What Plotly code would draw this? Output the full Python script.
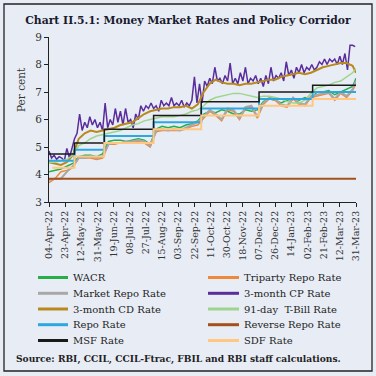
import pandas as pd
import plotly.graph_objects as go

# ---------------- data ----------------
week_dates = list(pd.date_range("2022-04-04", "2023-03-27", freq="7D")) + [pd.Timestamp("2023-03-31")]
cp_dates = list(pd.date_range("2022-04-04", periods=121, freq="3D"))

wacr = [4.10, 4.15, 4.20, 4.30, 4.40, 4.65, 4.70, 4.70, 4.65, 4.75, 5.20, 5.25, 5.25, 5.20, 5.25,
        5.30, 5.25, 5.10, 5.65, 5.75, 5.70, 5.75, 5.70, 5.80, 5.85, 5.95, 6.20, 6.30, 6.25, 6.35,
        6.30, 6.20, 6.20, 6.35, 6.30, 6.35, 6.65, 6.75, 6.70, 6.60, 6.70, 6.75, 6.70, 6.80, 6.75,
        7.00, 7.00, 7.05, 6.90, 7.00, 7.10, 7.20, 7.50]
triparty = [3.70, 3.85, 4.10, 4.15, 4.25, 4.60, 4.60, 4.60, 4.55, 4.60, 5.10, 5.10, 5.15, 5.15, 5.20,
            5.20, 5.15, 5.00, 5.55, 5.60, 5.60, 5.60, 5.60, 5.65, 5.75, 5.80, 6.05, 6.30, 6.15, 5.95,
            6.35, 6.30, 6.00, 6.40, 6.45, 6.05, 6.55, 6.75, 6.70, 6.50, 6.45, 6.75, 6.55, 6.50, 6.80,
            6.85, 6.90, 6.95, 6.70, 6.95, 6.80, 7.05, 7.30]
market_repo = [3.80, 3.85, 3.85, 4.10, 4.30, 4.60, 4.60, 4.65, 4.60, 4.65, 5.10, 5.15, 5.15, 5.20, 5.20,
               5.25, 5.20, 5.05, 5.60, 5.65, 5.60, 5.65, 5.60, 5.70, 5.80, 5.90, 6.10, 6.35, 6.20, 6.00,
               6.40, 6.35, 6.05, 6.45, 6.50, 6.10, 6.60, 6.80, 6.75, 6.55, 6.50, 6.80, 6.60, 6.55, 6.85,
               6.90, 6.95, 7.00, 6.75, 7.00, 6.85, 7.10, 7.40]
cd_rate = [4.45, 4.40, 4.35, 4.45, 4.70, 5.30, 5.50, 5.60, 5.55, 5.60, 5.65, 5.70, 5.80, 5.85, 5.90,
           6.05, 6.20, 6.30, 6.35, 6.40, 6.40, 6.45, 6.45, 6.50, 6.40, 6.55, 7.00, 7.30, 7.45, 7.35,
           7.30, 7.30, 7.25, 7.30, 7.30, 7.35, 7.40, 7.45, 7.45, 7.55, 7.60, 7.65, 7.70, 7.65, 7.70,
           7.80, 7.90, 7.95, 8.00, 8.05, 8.05, 7.95, 7.70]
tbill = [4.45, 4.45, 4.50, 4.55, 4.70, 5.05, 5.15, 5.30, 5.40, 5.45, 5.50, 5.55, 5.60, 5.70, 5.80,
         5.85, 5.95, 6.00, 6.05, 6.10, 6.10, 6.10, 6.15, 6.20, 6.30, 6.35, 6.50, 6.70, 6.80, 6.85,
         6.90, 6.95, 6.95, 6.90, 6.85, 6.80, 6.85, 6.85, 6.80, 6.75, 6.65, 6.60, 6.60, 6.70, 6.95,
         7.15, 7.20, 7.25, 7.35, 7.40, 7.55, 7.70, 7.85]
cp_rate = [4.85, 4.60, 4.70, 4.55, 4.65, 4.60, 4.50, 4.95, 4.60, 5.00,
           5.30, 5.50, 6.20, 5.60, 5.90, 5.70, 6.10, 5.80, 6.00, 5.70,
           5.90, 5.60, 6.60, 5.70, 6.00, 5.80, 6.40, 5.90, 6.30, 5.80,
           6.40, 5.90, 6.00, 5.70, 6.20, 6.00, 6.50, 6.30, 6.50, 6.40,
           6.60, 6.40, 6.50, 6.30, 6.70, 6.50, 6.60, 6.50, 6.80, 6.50,
           6.60, 6.50, 6.70, 6.45, 6.60, 6.50, 6.70, 7.55, 6.60, 7.30,
           6.60, 7.40, 7.20, 7.50, 7.30, 7.90, 7.40, 7.50, 7.30, 7.60,
           7.40, 8.05, 7.30, 7.50, 7.30, 7.70, 7.40, 7.90, 7.30, 7.50,
           7.40, 7.60, 7.30, 7.50, 7.20, 7.60, 7.30, 7.90, 7.40, 7.60,
           7.50, 7.70, 7.40, 8.10, 7.60, 7.80, 7.50, 7.90, 7.70, 8.00,
           7.70, 7.90, 7.80, 8.00, 7.80, 7.90, 8.10, 8.00, 8.20, 8.00,
           8.20, 8.10, 8.20, 8.00, 8.30, 8.00, 8.40, 7.80, 8.70, 8.70, 8.65]

policy_dates = ["2022-04-04", "2022-05-04", "2022-06-08", "2022-08-05", "2022-09-30",
                "2022-12-07", "2023-02-08", "2023-03-31"]
repo_rate = [4.50, 4.90, 5.40, 5.90, 6.40, 6.75, 7.00, 7.00]
msf_rate = [4.75, 5.15, 5.65, 6.15, 6.65, 7.00, 7.25, 7.25]
sdf_dates = ["2022-04-08", "2022-05-04", "2022-06-08", "2022-08-05", "2022-09-30",
             "2022-12-07", "2023-02-08", "2023-03-31"]
sdf_rate = [4.25, 4.65, 5.15, 5.65, 6.15, 6.50, 6.75, 6.75]
rrr_dates = ["2022-04-04", "2023-03-31"]
reverse_repo = [3.85, 3.85]

tick_dates = list(pd.date_range("2022-04-04", "2023-03-31", freq="19D"))
tick_labels = [d.strftime("%d-%b-%y") for d in tick_dates]
y_ticks = [3, 4, 5, 6, 7, 8, 9]

# ---------------- figure ----------------
SERIF = "DejaVu Serif"
fig = go.Figure()

series = []

def add(name, x, y, color, width=1.5, shape="linear"):
    series.append((name, color))
    fig.add_trace(go.Scatter(x=x, y=y, name=name, mode="lines", showlegend=False,
                             line=dict(color=color, width=width, shape=shape)))

add("WACR", week_dates, wacr, "#27AE4A")
add("Triparty Repo Rate", week_dates, triparty, "#F0883A")
add("Market Repo Rate", week_dates, market_repo, "#A8A8A8", 2)
add("3-month CP Rate", cp_dates, cp_rate, "#5A2D9C", 1.5)
add("3-month CD Rate", week_dates, cd_rate, "#B8891C", 2)
add("91-day  T-Bill Rate", week_dates, tbill, "#9FD48E", 1.5)
add("Repo Rate", policy_dates, repo_rate, "#2BA8E0", 2, "hv")
add("Reverse Repo Rate", rrr_dates, reverse_repo, "#A4501C", 2, "hv")
add("MSF Rate", policy_dates, msf_rate, "#1A1A1A", 1.5, "hv")
add("SDF Rate", sdf_dates, sdf_rate, "#FFC77F", 2, "hv")

# pixel -> paper helpers (plot area: x 49..356, y 37..202)
L, W, B, H = 49, 307, 202, 165
def px(x):
    return (x - L) / W
def py(y):
    return (B - y) / H

BG = "#E8EDF5"
fig.update_layout(
    width=376, height=376,
    margin=dict(l=L, r=376 - L - W, t=B - H, b=376 - B),
    paper_bgcolor=BG, plot_bgcolor=BG,
    font=dict(family=SERIF, size=10, color="#222"),
    title=dict(text="<b>Chart II.5.1: Money Market Rates and Policy Corridor</b>",
               x=0.5, xanchor="center", y=1 - 20 / 376, yanchor="middle",
               font=dict(family=SERIF, size=10.8, color="#1a1a2e")),
    showlegend=False,
    hovermode=False,
)
fig.update_xaxes(type="date", range=["2022-04-04", "2023-03-31"],
                 tickvals=tick_dates, ticktext=tick_labels, tickangle=-90,
                 showline=True, linecolor="#222", linewidth=1,
                 ticks="outside", ticklen=4, tickcolor="#222",
                 showgrid=False, zeroline=False,
                 tickfont=dict(family=SERIF, size=9.5, color="#333"))
fig.update_yaxes(range=[3, 9], tickvals=y_ticks,
                 showline=True, linecolor="#222", linewidth=1,
                 ticks="outside", ticklen=4, tickcolor="#222",
                 showgrid=False, zeroline=False,
                 tickfont=dict(family=SERIF, size=10.5, color="#333"))

fig.add_annotation(text="Per cent", xref="paper", yref="paper", x=px(21), y=py(90),
                   textangle=-90, showarrow=False, xanchor="center", yanchor="middle",
                   font=dict(family=SERIF, size=10.5, color="#333"))

# legend drawn as two columns
rows_y = [277.5, 293.3, 309, 324.7, 340.5]
cols = [(38, 68, 71), (208, 239, 242)]
for i, (name, color) in enumerate(series):
    r, c = divmod(i, 2)
    x0, x1, xt = cols[c]
    y = rows_y[r]
    fig.add_shape(type="line", xref="paper", yref="paper", x0=px(x0), x1=px(x1), y0=py(y), y1=py(y),
                  line=dict(color=color, width=3))
    fig.add_annotation(text=name, xref="paper", yref="paper", x=px(xt), y=py(y),
                       xanchor="left", yanchor="middle", showarrow=False,
                       font=dict(family=SERIF, size=10, color="#222"))

fig.add_annotation(text="<b>Source: RBI, CCIL, CCIL-Ftrac, FBIL and RBI staff calculations.</b>",
                   xref="paper", yref="paper", x=px(14), y=py(358.5), xanchor="left", yanchor="middle",
                   showarrow=False, font=dict(family=SERIF, size=9.1, color="#222"))

# outer frame
fig.add_shape(type="rect", xref="paper", yref="paper",
              x0=px(4), x1=px(372), y0=py(371), y1=py(4),
              line=dict(color="#222", width=1.3), fillcolor="rgba(0,0,0,0)", layer="below")

fig.write_html("out.html",
               config={"displayModeBar": False, "staticPlot": True},
               post_script="document.body.style.margin='0';document.body.style.padding='0';"
                           "document.body.style.background='" + BG + "';")
